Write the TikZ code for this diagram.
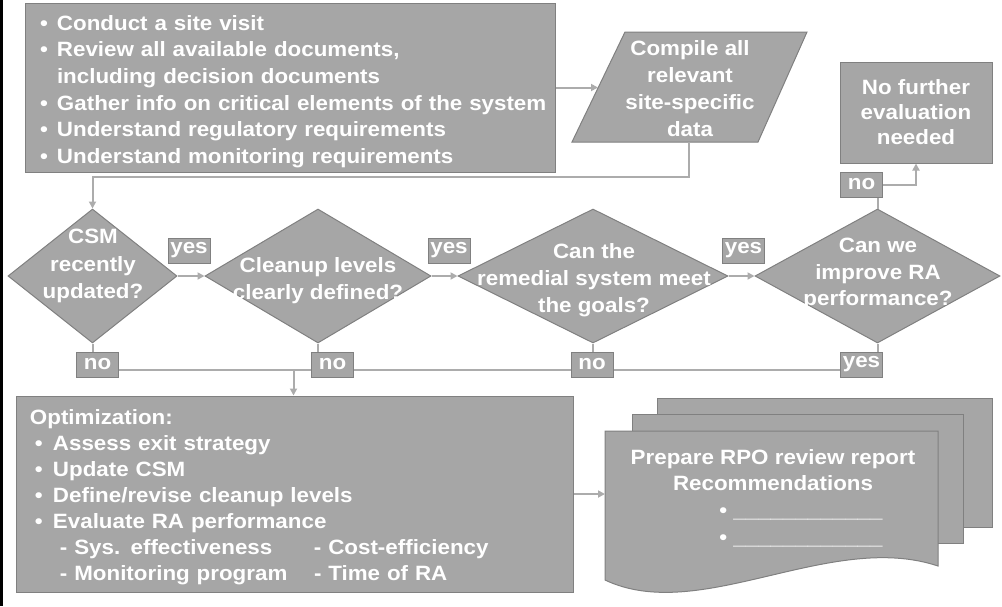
\documentclass[tikz,border=0pt]{standalone}
\usepackage{fontspec}
\setmainfont{Liberation Sans}[FakeStretch=1.08]
\usetikzlibrary{arrows.meta,shapes.geometric}
\definecolor{boxfill}{RGB}{166,166,166}
\definecolor{boxline}{RGB}{128,128,128}
\definecolor{conncol}{RGB}{172,172,172}
\newcommand\bul[1]{\makebox[#1][l]{•}}
\newcommand\bula{\hspace*{12.5pt}\makebox[17pt][l]{•}}
\tikzset{
  every node/.style={font=\bfseries\fontsize{20.7}{26.6}\selectfont, text=white},
  box/.style={draw=boxline, line width=1pt, fill=boxfill, inner sep=0pt},
  lbl/.style={box, minimum width=42pt, minimum height=25pt},
  dia/.style={diamond, draw=boxline, fill=boxfill, line width=1pt, inner sep=0pt, minimum height=134pt},
  shp/.style={draw=boxline, fill=boxfill, line width=1pt},
  conn/.style={draw=conncol, line width=2pt},
  arr/.style={conn, -{Triangle[length=7pt,width=7pt]}},
  txt/.style={align=center, inner sep=0pt},
}
\begin{document}
\begin{tikzpicture}[x=1pt,y=-1pt]
\useasboundingbox (0,0) rectangle (1002,606);
\fill[black] (0,0) rectangle (2.5,606);

% top-left box
\node[box, minimum width=530pt, minimum height=169pt, text width=525pt, inner xsep=2.5pt, align=left] (b1) at (290,87.5)
{\rule{0pt}{23pt}\bula Conduct a site visit\\
 \bula Review all available documents,\\
 \hspace*{29.5pt}including decision documents\\
 \bula Gather info on critical elements of the system\\
 \bula Understand regulatory requirements\\
 \bula Understand monitoring requirements};

% parallelogram
\filldraw[shp] (625,32) -- (807,32) -- (758,142) -- (572,142) -- cycle;
\node[txt, font=\bfseries\fontsize{20.7}{26.8}\selectfont] (cmp) at (690,88.5) {Compile all\\relevant\\site-specific\\data};
\coordinate (parL) at (598,87.5);
\coordinate (parB) at (689,142);
\coordinate (topY) at (0,177);

% no further evaluation
\node[box, minimum width=152pt, minimum height=101pt, align=center, font=\bfseries\fontsize{20.7}{25}\selectfont] (nf) at (916,112.5) {No further\\evaluation\\needed};

% diamonds
\node[dia, minimum width=169pt] (d1) at (92.5,276) {};
\node[dia, minimum width=226pt] (d2) at (318,276) {};
\node[dia, minimum width=270pt] (d3) at (593,276) {};
\node[dia, minimum width=245pt] (d4) at (877.5,276) {};
\node[txt, font=\bfseries\fontsize{20.7}{27.5}\selectfont] (d1t) at (93,266) {CSM\\recently\\updated?};
\node[txt, font=\bfseries\fontsize{20.7}{27.5}\selectfont] (d2t) at (318,280.5) {Cleanup levels\\clearly defined?};
\node[txt, font=\bfseries\fontsize{20.7}{27}\selectfont] (d3t) at (594,280) {Can the\\remedial system meet\\the goals?};
\node[txt, font=\bfseries\fontsize{20.7}{26.5}\selectfont] (d4t) at (878,274) {Can we\\improve RA\\performance?};

% labels
\node[lbl] (y1) at (189,250.5) {yes};
\node[lbl] (y2) at (449,250.5) {yes};
\node[lbl] (y3) at (743.5,250.5) {yes};
\node[lbl] (n1) at (97.5,364.5) {no};
\node[lbl] (n2) at (332.5,364.5) {no};
\node[lbl] (n3) at (592,364.5) {no};
\node[lbl] (y4) at (861.5,364.5) {yes};
\node[lbl] (n4) at (861.5,184.5) {no};

% optimization box
\node[box, minimum width=557pt, minimum height=196pt, text width=529pt, inner xsep=14pt, align=left, font=\bfseries\fontsize{20.7}{26}\selectfont] (opt) at (294.5,494)
{\rule{0pt}{22pt}Optimization:\\
 \hspace*{5pt}\bul{18pt}Assess exit strategy\\
 \hspace*{5pt}\bul{18pt}Update CSM\\
 \hspace*{5pt}\bul{18pt}Define/revise cleanup levels\\
 \hspace*{5pt}\bul{18pt}Evaluate RA performance\\
 \hspace*{30pt}\makebox[254pt][l]{- Sys. effectiveness}- Cost-efficiency\\
 \hspace*{30pt}\makebox[254pt][l]{- Monitoring program}- Time of RA};

% document stack
\filldraw[shp] (657,398) rectangle (992,527);
\filldraw[shp] (632,414) rectangle (963,543);
\filldraw[shp] (605,431) -- (938,431) -- (938,566) .. controls (830,530) and (700,625) .. (605,580) -- cycle;
\node[txt, font=\bfseries\fontsize{20.7}{26.7}\selectfont] (doct) at (773,498)
{Prepare RPO review report\\Recommendations\\
 \hspace*{56pt}• \_\_\_\_\_\_\_\_\_\_\_\_\\
 \hspace*{56pt}• \_\_\_\_\_\_\_\_\_\_\_\_};
\coordinate (docL) at (605,494);

% connectors
\draw[arr] (b1.east) -- (parL);
\draw[arr] (parB) -- (parB |- topY) -| (d1.north);
\draw[arr] (d1.east) -- (d2.west);
\draw[arr] (d2.east) -- (d3.west);
\draw[arr] (d3.east) -- (d4.west);
\coordinate (hl) at (0,370);
\draw[conn] (d1.south) -- (d1.south |- n1.north);
\draw[conn] (d2.south) -- (d2.south |- n2.north);
\draw[conn] (d3.south) -- (d3.south |- n3.north);
\draw[conn] (d4.south) -- (d4.south |- y4.north);
\draw[conn] (n1.east |- hl) -- (n2.west |- hl);
\draw[conn] (n2.east |- hl) -- (n3.west |- hl);
\draw[conn] (n3.east |- hl) -- (y4.west |- hl);
\coordinate (jn) at (293.5,370);
\draw[arr] (jn) -- (jn |- opt.north);
\draw[conn] (d4.north) -- (d4.north |- n4.south);
\draw[arr] (n4.east) -| (nf.south);
\draw[arr] (opt.east) -- (docL);
\end{tikzpicture}
\end{document}
